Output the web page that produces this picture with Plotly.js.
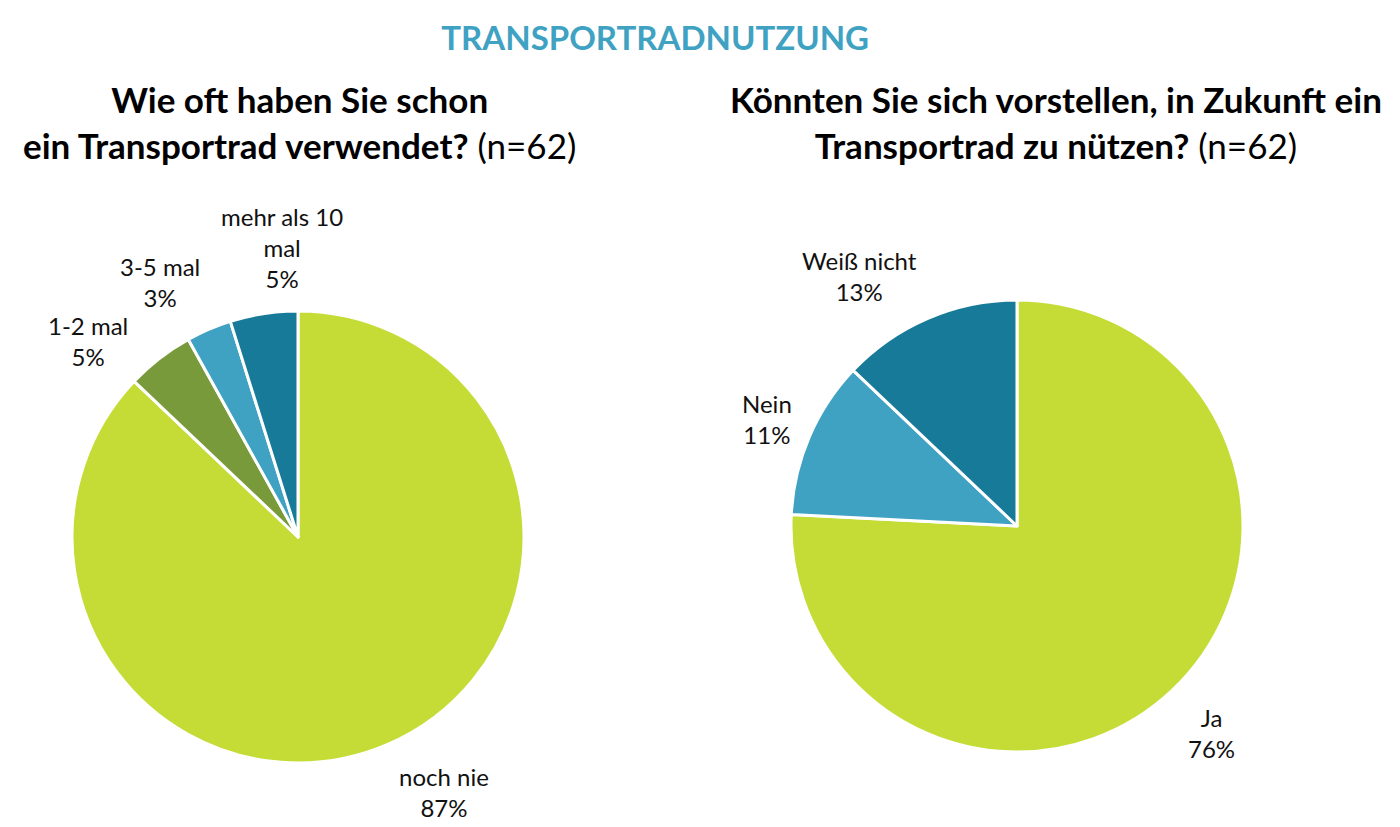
<!DOCTYPE html>
<html>
<head>
<meta charset="utf-8">
<script src="https://cdn.plot.ly/plotly-3.0.1.min.js"></script>
<style>
  html, body { margin: 0; padding: 0; background: #fff; }
  #plot { width: 1400px; height: 827px; }
</style>
</head>
<body>
<div id="plot"></div>
<script>
// Frage 1: Wie oft haben Sie schon ein Transportrad verwendet? (n=62)
const nutzungKategorien = ["noch nie", "1-2 mal", "3-5 mal", "mehr als 10 mal"];
const nutzungTexte = ["noch nie", "1-2 mal", "3-5 mal", "mehr als 10<br>mal"];
const nutzungAnzahl = [54, 3, 2, 3];

// Frage 2: Könnten Sie sich vorstellen, in Zukunft ein Transportrad zu nützen? (n=62)
const zukunftKategorien = ["Ja", "Nein", "Weiß nicht"];
const zukunftTexte = ["Ja", "Nein", "Weiß nicht"];
const zukunftAnzahl = [47, 7, 8];

const LIME = "#c5dc36",
  OLIVE = "#789a3a",
  LIGHTBLUE = "#40a2c3",
  TEAL = "#177a99";

const W = 1400, H = 827;
const FONT = "Lato, 'Open Sans', sans-serif";
const labelFont = { family: FONT, size: 24, color: "#111" };

// pie placement in pixels (center + radius), domain derived from it
const links = { cx: 298, cy: 537, r: 226 };
const rechts = { cx: 1017, cy: 526, r: 226 };

// small pixel nudges of the data labels (like manually dragged labels in excel)
const linksNudge = [[32, -11], [-33, 33], [-24, 11], [28, -4]];
const rechtsNudge = [[-5, -3], [16, 7], [-43, 16]];

function domainFor(p) {
  return {
    x: [(p.cx - p.r) / W, (p.cx + p.r) / W],
    y: [1 - (p.cy + p.r) / H, 1 - (p.cy - p.r) / H],
  };
}

// data labels outside the slices, at the slice's middle angle (clockwise from 12 o'clock)
function sliceLabels(p, texte, werte, nudge) {
  const sum = werte.reduce((a, b) => a + b, 0);
  let cum = 0;
  return werte.map((v, i) => {
    const mid = (cum + v / 2) / sum;
    cum += v;
    const a = mid * 2 * Math.PI;
    const d = p.r * 1.28;
    return {
      text: texte[i] + "<br>" + Math.round((v / sum) * 100) + "%",
      xref: "paper", yref: "paper",
      x: (p.cx + d * Math.sin(a) + nudge[i][0]) / W,
      y: 1 - (p.cy - d * Math.cos(a) + nudge[i][1]) / H,
      xanchor: "center", yanchor: "middle",
      showarrow: false, font: labelFont,
    };
  });
}

const pieLinks = {
  type: "pie",
  labels: nutzungKategorien,
  values: nutzungAnzahl,
  textinfo: "none",
  sort: false,
  direction: "clockwise",
  rotation: 0,
  marker: { colors: [LIME, OLIVE, LIGHTBLUE, TEAL], line: { color: "#fff", width: 3 } },
  domain: domainFor(links),
  showlegend: false,
  hoverinfo: "label+value+percent",
};

const pieRechts = {
  type: "pie",
  labels: zukunftKategorien,
  values: zukunftAnzahl,
  textinfo: "none",
  sort: false,
  direction: "clockwise",
  rotation: 0,
  marker: { colors: [LIME, LIGHTBLUE, TEAL], line: { color: "#fff", width: 3 } },
  domain: domainFor(rechts),
  showlegend: false,
  hoverinfo: "label+value+percent",
};

const subFont = { family: FONT, size: 35, color: "#000" };

const annotations = [
  {
    text: "<b>Wie oft haben Sie schon</b><br><b>ein Transportrad verwendet?</b> (n=62)",
    xref: "paper", yref: "paper",
    x: 0.214, y: 0.852, xanchor: "center", yanchor: "middle",
    showarrow: false, font: subFont,
  },
  {
    text: "<b>Könnten Sie sich vorstellen, in Zukunft ein</b><br><b>Transportrad zu nützen?</b> (n=62)",
    xref: "paper", yref: "paper",
    x: 0.754, y: 0.852, xanchor: "center", yanchor: "middle",
    showarrow: false, font: subFont,
  },
]
  .concat(sliceLabels(links, nutzungTexte, nutzungAnzahl, linksNudge))
  .concat(sliceLabels(rechts, zukunftTexte, zukunftAnzahl, rechtsNudge));

Plotly.newPlot("plot", [pieLinks, pieRechts], {
  width: W,
  height: H,
  paper_bgcolor: "#fff",
  margin: { l: 0, r: 0, t: 0, b: 0 },
  title: {
    text: "<b>TRANSPORTRADNUTZUNG</b>",
    x: 0.468,
    xanchor: "center",
    y: 0.954,
    yanchor: "middle",
    font: { family: FONT, size: 33, color: "#40a2c3" },
  },
  annotations: annotations,
}, { displayModeBar: false });
</script>
</body>
</html>
